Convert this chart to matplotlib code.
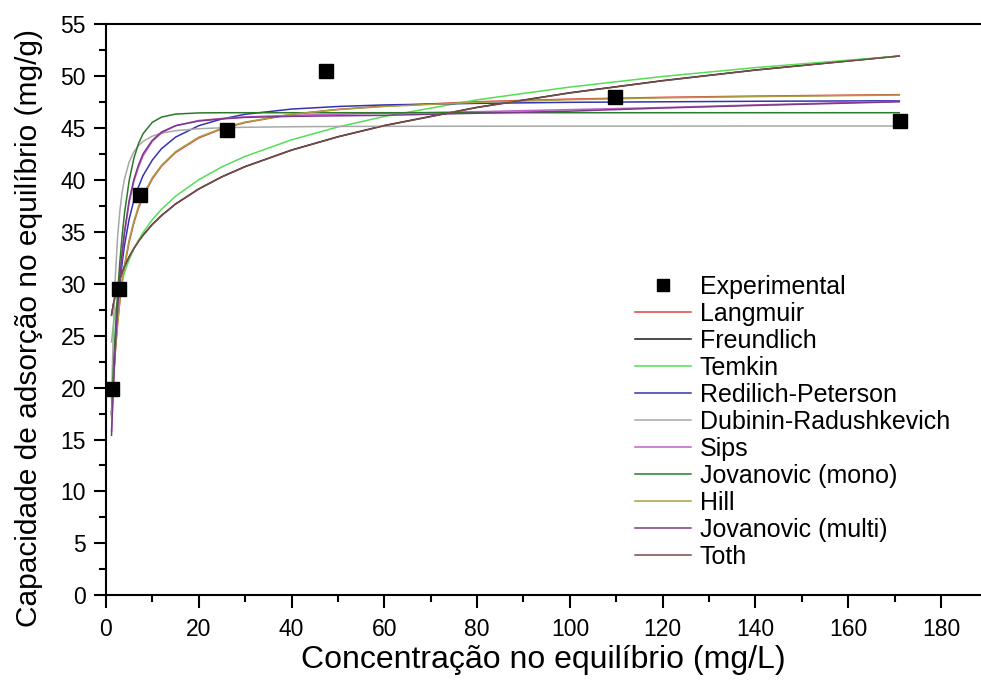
import matplotlib
matplotlib.use("Agg")
import matplotlib.pyplot as plt
from matplotlib.lines import Line2D

plt.rcParams['font.family'] = ['Liberation Sans', 'DejaVu Sans']

# Experimental equilibrium data
ce_exp = [1.3, 2.8, 7.3, 26.1, 47.4, 109.8, 171.1]
qe_exp = [19.9, 29.5, 38.5, 44.8, 50.5, 48.0, 45.7]

# Concentrations at which the fitted isotherms are tabulated
ce_fit = [1.2, 1.6, 2, 2.5, 3, 3.5, 4, 5, 6, 7, 8, 10, 12, 15, 20, 25, 30,
          40, 50, 60, 80, 100, 120, 140, 171]

q_langmuir = [17.36, 20.69, 23.38, 26.10, 28.30, 30.10, 31.62, 34.01, 35.82,
              37.24, 38.37, 40.09, 41.31, 42.62, 44.02, 44.90, 45.50, 46.29,
              46.77, 47.09, 47.51, 47.76, 47.93, 48.05, 48.19]
q_freundlich = [27.00, 28.04, 28.88, 29.74, 30.47, 31.09, 31.65, 32.59, 33.38,
                34.07, 34.67, 35.71, 36.57, 37.67, 39.12, 40.29, 41.27, 42.86,
                44.14, 45.22, 46.97, 48.37, 49.54, 50.56, 51.91]
q_temkin = [24.40, 26.00, 27.23, 28.47, 29.48, 30.34, 31.08, 32.31, 33.32,
            34.18, 34.92, 36.16, 37.17, 38.41, 40.00, 41.24, 42.25, 43.84,
            45.08, 46.09, 47.69, 48.92, 49.94, 50.79, 51.90]
q_redlich = [17.6, 21.3, 24.4, 27.5, 30.0, 32.0, 33.7, 36.2, 38.0, 39.3, 40.4,
             41.9, 43.0, 44.1, 45.2, 45.85, 46.3, 46.8, 47.05, 47.2, 47.35,
             47.45, 47.5, 47.55, 47.6]
q_dubinin = [18.71, 25.66, 30.44, 34.42, 37.03, 38.81, 40.08, 41.71, 42.67,
             43.28, 43.69, 44.20, 44.48, 44.72, 44.91, 45.00, 45.05, 45.10,
             45.13, 45.14, 45.15, 45.16, 45.16, 45.17, 45.17]
q_sips = [15.8, 20.3, 24.0, 27.7, 30.6, 32.9, 34.8, 37.8, 39.8, 41.2, 42.3,
          43.7, 44.5, 45.2, 45.7, 45.9, 46.05, 46.2, 46.3, 46.4, 46.55, 46.75,
          46.95, 47.2, 47.55]
q_jov_mono = [17.43, 21.64, 25.24, 29.02, 32.12, 34.67, 36.77, 39.91, 42.03,
              43.46, 44.43, 45.53, 46.03, 46.32, 46.43, 46.45, 46.45, 46.45,
              46.45, 46.45, 46.45, 46.45, 46.45, 46.45, 46.45]
q_hill = [17.1, 20.5, 23.3, 26.1, 28.4, 30.2, 31.8, 34.2, 36.0, 37.4, 38.5,
          40.2, 41.4, 42.7, 44.1, 44.95, 45.55, 46.3, 46.75, 47.05, 47.45,
          47.7, 47.88, 48.0, 48.15]
q_jov_multi = [15.4, 20.0, 23.8, 27.6, 30.6, 33.0, 35.0, 38.0, 40.0, 41.4,
               42.5, 43.8, 44.6, 45.2, 45.65, 45.85, 46.0, 46.1, 46.15, 46.2,
               46.4, 46.6, 46.9, 47.15, 47.5]
q_toth = [26.95, 28.0, 28.85, 29.72, 30.45, 31.07, 31.63, 32.57, 33.36, 34.05,
          34.65, 35.69, 36.55, 37.65, 39.1, 40.27, 41.25, 42.84, 44.12, 45.2,
          46.95, 48.35, 49.52, 50.55, 51.9]

models = [
    ("Langmuir", q_langmuir, "#e04040"),
    ("Freundlich", q_freundlich, "#1a1a1a"),
    ("Temkin", q_temkin, "#55dd55"),
    ("Redilich-Peterson", q_redlich, "#3434b0"),
    ("Dubinin-Radushkevich", q_dubinin, "#a8a8a8"),
    ("Sips", q_sips, "#c060c8"),
    ("Jovanovic (mono)", q_jov_mono, "#2a7a2a"),
    ("Hill", q_hill, "#a8a040"),
    ("Jovanovic (multi)", q_jov_multi, "#7a3a8a"),
    ("Toth", q_toth, "#7a4a4a"),
]

x_ticks = [0, 20, 40, 60, 80, 100, 120, 140, 160, 180]
y_ticks = [0, 5, 10, 15, 20, 25, 30, 35, 40, 45, 50, 55]

fig = plt.figure(figsize=(9.81, 6.82), dpi=100)
ax = fig.add_axes([0.108, 0.127, 0.891, 0.838])

handles = [Line2D([], [], ls='none', marker='s', ms=9, color='black',
                  label='Experimental')]
for name, q, color in models:
    ln, = ax.plot(ce_fit, q, color=color, lw=1.1, label=name)
    handles.append(ln)

ax.plot(ce_exp, qe_exp, ls='none', marker='s', ms=10, color='black', zorder=5)

ax.set_xlim(0, 188.4)
ax.set_ylim(0, 55)
ax.set_xticks(x_ticks)
ax.set_yticks(y_ticks)
ax.set_xticks([10, 30, 50, 70, 90, 110, 130, 150, 170], minor=True)
ax.set_yticks([2.5 + 5 * i for i in range(11)], minor=True)

for side in ('left', 'bottom', 'top'):
    ax.spines[side].set_linewidth(1.5)
ax.spines['right'].set_visible(False)

ax.tick_params(which='major', direction='out', length=9, width=1.5,
               labelsize=16.5, pad=5.5)
ax.tick_params(axis='x', which='major', pad=7.5)
ax.tick_params(which='minor', direction='out', length=5, width=1.5)
ax.tick_params(top=False, right=False)

ax.set_xlabel("Concentração no equilíbrio (mg/L)", fontsize=23, labelpad=3)
ax.set_ylabel("Capacidade de adsorção no equilíbrio (mg/g)", fontsize=21.5)
ax.yaxis.set_label_coords(-0.072, 0.468)

ax.legend(handles=handles, loc='upper left', bbox_to_anchor=(0.647, 0.597),
          bbox_transform=fig.transFigure, frameon=False, fontsize=18,
          borderpad=0, borderaxespad=0, handlelength=2.24, handletextpad=0.37,
          labelspacing=0.12)

fig.savefig("out.png", dpi=100)
